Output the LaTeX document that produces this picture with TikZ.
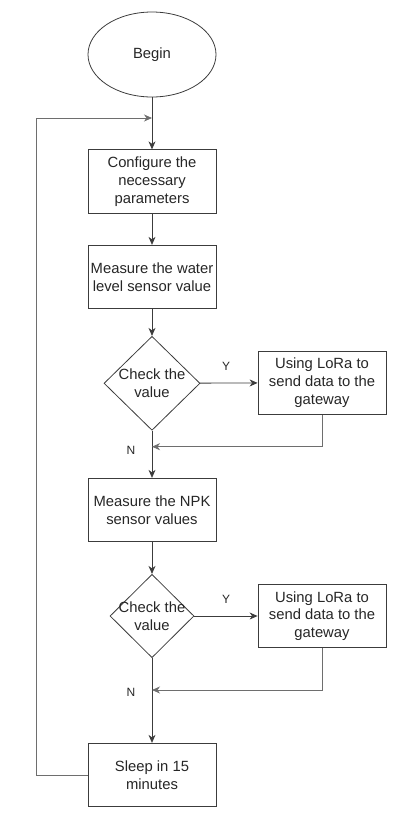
\documentclass[tikz,border=0pt]{standalone}
\usepackage{fontspec}
\setmainfont{Liberation Sans}
\usetikzlibrary{shapes.geometric,positioning,arrows.meta}
\definecolor{edge}{HTML}{3C3C3C}
\definecolor{back}{HTML}{6E6E6E}

\begin{document}
\begin{tikzpicture}[>={Stealth[length=8pt,width=7pt,inset=2.5pt]}, x=1pt, y=-1pt,
	txt/.style={font=\fontsize{14.8}{17.8}\selectfont, text=black!85},
	process/.style={txt, rectangle, draw=edge, line width=0.8pt, minimum width=128pt, minimum height=63.5pt, inner sep=0pt, align=center},
	decision/.style={diamond, draw=edge, line width=0.8pt, inner sep=0pt},
	yn/.style={font=\fontsize{12}{14}\selectfont, text=black!85}]
	\useasboundingbox (0,0) rectangle (413,823);
	% main column
	\node (begin) [ellipse, draw=edge, line width=0.8pt, minimum width=128pt, minimum height=85pt, txt] at (152,54.5) {Begin};
	\node (config) [process] at (152,181.5) {Configure the\\necessary\\parameters};
	\node (water) [process] at (152,277) {Measure the water\\level sensor value};
	\node (check1) [decision, minimum width=96pt, minimum height=94pt, label={[txt, align=center]center:Check the\\value}] at (152,383.3) {};
	\node (send1) [process] at (322,382.7) {Using LoRa to\\send data to the\\gateway};
	\node (npk) [process] at (152,510) {Measure the NPK\\sensor values};
	\node (check2) [decision, minimum width=84pt, minimum height=83.4pt, label={[txt, align=center]center:Check the\\value}] at (152,616) {};
	\node (send2) [process] at (322,616) {Using LoRa to\\send data to the\\gateway};
	\node (sleep) [process] at (152,775) {Sleep in 15\\minutes};
	% joints
	\coordinate (j0) at (152,118);
	\coordinate (j1) at (152,446.7);
	\coordinate (j2) at (152,690);
	\coordinate (lt) at (36.3,118);
	\coordinate (lb) at (36.3,775);
	% connectors
	\draw [->, edge, line width=0.8pt] (begin) -- (config);
	\draw [->, edge, line width=0.8pt] (config) -- (water);
	\draw [->, edge, line width=0.8pt] (water) -- (check1);
	\draw [->, edge, line width=0.8pt] (check1) -- (send1);
	\draw [->, edge, line width=0.8pt] (check1) -- (npk);
	\draw [->, edge, line width=0.8pt] (npk) -- (check2);
	\draw [->, edge, line width=0.8pt] (check2) -- (send2);
	\draw [->, edge, line width=0.8pt] (check2) -- (sleep);
	\draw [->, back, line width=0.8pt] (send1.south) |- (j1);
	\draw [->, back, line width=0.8pt] (send2.south) |- (j2);
	\draw [->, back, line width=0.8pt] (sleep.west) -- (lb) -- (lt) -- (j0);
	% labels
	\node (y1) [yn] at (226,366) {Y};
	\node (n1) [yn] at (131,450) {N};
	\node (y2) [yn] at (226,599.3) {Y};
	\node (n2) [yn] at (131,692.7) {N};
\end{tikzpicture}
\end{document}
